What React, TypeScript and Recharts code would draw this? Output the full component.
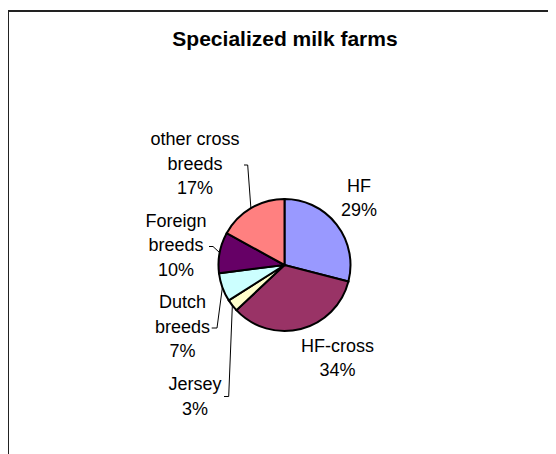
import React from 'react';
import { PieChart, Pie, Cell } from 'recharts';

const breeds = ['HF', 'HF-cross', 'Jersey', 'Dutch breeds', 'Foreign breeds', 'other cross breeds'];
const shares = [29, 34, 3, 7, 10, 17];

const COLORS: Record<string, string> = {
  HF: '#9999ff',
  'HF-cross': '#993366',
  Jersey: '#ffffcc',
  'Dutch breeds': '#ccffff',
  'Foreign breeds': '#660066',
  'other cross breeds': '#ff8080',
};

// where each label block sits, measured from the pie centre; leader = [start x, elbow x]
const LABELS: Record<string, { lines: string[]; dx: number; dy: number; leader?: [number, number] }> = {
  HF: { lines: ['HF'], dx: 74.5, dy: -67 },
  'HF-cross': { lines: ['HF-cross'], dx: 53, dy: 93 },
  Jersey: { lines: ['Jersey'], dx: -89.5, dy: 131.5, leader: [-60.5, -55.8] },
  'Dutch breeds': { lines: ['Dutch', 'breeds'], dx: -102, dy: 61.5, leader: [-72.8, -67.5] },
  'Foreign breeds': { lines: ['Foreign', 'breeds'], dx: -108.5, dy: -20, leader: [-75.5, -71.5] },
  'other cross breeds': { lines: ['other cross', 'breeds'], dx: -89.5, dy: -101.5, leader: [-40.5, -36.8] },
};

const data = breeds.map((name, i) => ({ name, value: shares[i] }));

const FONT = "Arial, 'Liberation Sans', sans-serif";
const LINE_H = 24.5;
const RADIAN = Math.PI / 180;

const renderLabel = (props: any) => {
  const { cx, cy, midAngle, outerRadius, percent, name } = props;
  const cfg = LABELS[name];
  if (!cfg) return null;
  const lines = [...cfg.lines, `${Math.round(percent * 100)}%`];
  const x = cx + cfg.dx;
  const top = cy + cfg.dy - ((lines.length - 1) * LINE_H) / 2;
  let leader = null;
  if (cfg.leader) {
    const ex = cx + outerRadius * Math.cos(-midAngle * RADIAN);
    const ey = cy + outerRadius * Math.sin(-midAngle * RADIAN);
    const ly = cy + cfg.dy + (lines.length % 2 === 0 ? 0 : 1.5);
    leader = (
      <polyline
        points={`${cx + cfg.leader[0]},${ly} ${cx + cfg.leader[1]},${ly} ${ex},${ey}`}
        fill="none"
        stroke="#000"
        strokeWidth={1}
      />
    );
  }
  return (
    <g>
      {leader}
      <text x={x} y={top} textAnchor="middle" fontFamily={FONT} fontSize={18} fill="#000">
        {lines.map((l, i) => (
          <tspan key={i} x={x} y={top + i * LINE_H} dominantBaseline="central">
            {l}
          </tspan>
        ))}
      </text>
    </g>
  );
};

export default function App() {
  return (
    <div
      style={{
        position: 'relative',
        width: 547,
        height: 442,
        marginLeft: -1,
        marginTop: 2,
        borderTop: '2px solid #222',
        borderLeft: '2px solid #222',
        background: '#fff',
      }}
    >
      <div
        style={{
          position: 'absolute',
          left: 0,
          top: 15,
          width: 552,
          textAlign: 'center',
          fontFamily: FONT,
          fontWeight: 'bold',
          fontSize: 21,
          lineHeight: '24px',
          color: '#000',
        }}
      >
        Specialized milk farms
      </div>
      <PieChart width={547} height={442} margin={{ top: 0, right: 0, bottom: 0, left: 0 }}>
        <Pie
          data={data}
          dataKey="value"
          nameKey="name"
          cx={275.5}
          cy={253}
          outerRadius={66}
          startAngle={90}
          endAngle={-270}
          stroke="#000"
          strokeWidth={2}
          labelLine={false}
          label={renderLabel}
          isAnimationActive={false}
        >
          {data.map((d) => (
            <Cell key={d.name} fill={COLORS[d.name]} />
          ))}
        </Pie>
      </PieChart>
    </div>
  );
}
